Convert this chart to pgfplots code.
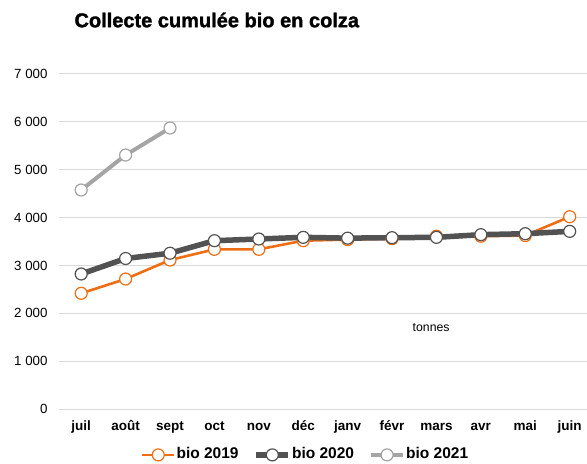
\documentclass[border=0pt]{standalone}
\usepackage{fontspec}
\setmainfont{Liberation Sans}
\newfontfamily\titlefont[BoldFeatures={FakeBold=1.5}]{Liberation Sans}
\usepackage{pgfplots}
\pgfplotsset{compat=1.18}
\definecolor{cOr}{RGB}{237,110,20}
\definecolor{cDk}{RGB}{82,82,82}
\definecolor{cLt}{RGB}{165,165,165}
\definecolor{cGrid}{RGB}{217,217,217}
\begin{document}
\begin{tikzpicture}
\path[use as bounding box] (-59bp,-55bp) rectangle (528bp,409bp);
\begin{axis}[
  at={(0,0)}, anchor=south west,
  scale only axis, width=528bp, height=335bp,
  xmin=-0.5, xmax=11.39, ymin=0, ymax=7000,
  clip=false,
  xtick={0,...,11},
  xticklabels={juil,août,sept,oct,nov,déc,janv,févr,mars,avr,mai,juin},
  ytick={0,1000,...,7000},
  ymajorgrids, grid style={cGrid, line width=1bp},
  axis line style={draw=none},
  major tick length=0,
  scaled y ticks=false,
  /pgf/number format/assume math mode=true,
  /pgf/number format/1000 sep={\ },
  y tick label style={font=\fontsize{13.3bp}{15bp}\selectfont, xshift=-8bp},
  x tick label style={font=\bfseries\fontsize{13.5bp}{15bp}\selectfont, text height=10bp, text depth=3bp, yshift=-8bp},
  legend columns=3,
  legend style={draw=none, fill=none, at={(0.466,-0.137)}, anchor=center,
    font=\bfseries\fontsize{15.5bp}{17bp}\selectfont,
    /tikz/every even column/.append style={column sep=14bp},
    nodes={inner sep=1bp, text height=11bp, text depth=3bp}},
  legend image code/.code={\draw[mark repeat=2,mark phase=2,#1] plot coordinates {(0bp,0bp)(16bp,0bp)(32bp,0bp)};},
]
\addplot[cOr, line width=2.6bp, mark=*, mark size=6bp, mark options={fill=white, draw=cOr, line width=1.2bp}]
coordinates {(0,2417)(1,2716)(2,3113)(3,3336)(4,3336)(5,3517)(6,3540)(7,3560)(8,3610)(9,3610)(10,3625)(11,4018)};
\addlegendentry{bio 2019}
\addplot[cDk, line width=5.5bp, mark=*, mark size=6bp, mark options={fill=white, draw=cDk, line width=1.2bp}]
coordinates {(0,2821)(1,3145)(2,3255)(3,3517)(4,3552)(5,3587)(6,3570)(7,3580)(8,3587)(9,3643)(10,3663)(11,3712)};
\addlegendentry{bio 2020}
\addplot[cLt, line width=4bp, mark=*, mark size=6bp, mark options={fill=white, draw=cLt, line width=1.2bp}]
coordinates {(0,4576)(1,5307)(2,5871)};
\addlegendentry{bio 2021}
\node[font=\fontsize{12.3bp}{14bp}\selectfont] at (axis cs:7.88,1692) {tonnes};
\end{axis}
\node[anchor=west, font=\titlefont\bfseries\fontsize{20bp}{22bp}\selectfont] at (12bp,389bp) {Collecte cumulée bio en colza};
\end{tikzpicture}
\end{document}
